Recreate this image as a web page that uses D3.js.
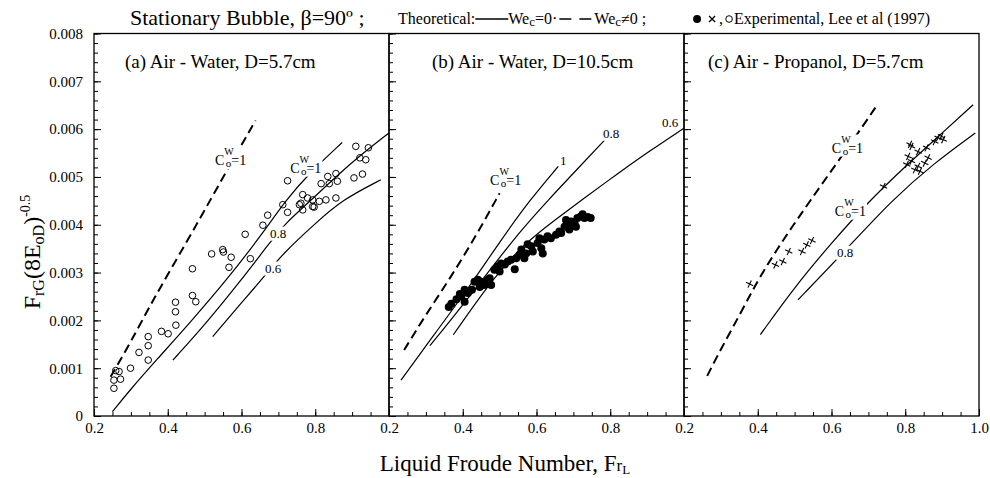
<!DOCTYPE html>
<html>
<head>
<meta charset="utf-8">
<script src="https://cdn.jsdelivr.net/npm/d3@7"></script>
<style>
body { margin: 0; background: #fff; }
</style>
</head>
<body>
<svg id="chart" width="990" height="478" font-family="Liberation Serif, Times New Roman, serif"></svg>
<script>
// values, [Fr_L, Fr_G(8Eo_D)^-0.5]
var xTicks = [0.2, 0.4, 0.6, 0.8, 1.0];
var yTicks = [0, 0.001, 0.002, 0.003, 0.004, 0.005, 0.006, 0.007, 0.008];

// (a) air - water, D=5.7cm
var dashA = [[0.245, 0.00082], [0.30, 0.00155], [0.36, 0.00243], [0.45, 0.00362], [0.52, 0.00458], [0.58, 0.0054], [0.638, 0.00618]];
var solidA1 = [[0.25, 0.00009], [0.297, 0.00054], [0.369, 0.00117], [0.459, 0.00194], [0.568, 0.00292], [0.658, 0.00383], [0.721, 0.00452], [0.784, 0.00508], [0.873, 0.00572]];
var solidA2 = [[0.414, 0.00117], [0.50, 0.0019], [0.60, 0.00285], [0.676, 0.00362], [0.72, 0.00404], [0.79, 0.00452], [0.856, 0.00501], [0.93, 0.0055], [1.0, 0.00592]];
var solidA3 = [[0.522, 0.00166], [0.59, 0.00228], [0.658, 0.00288], [0.712, 0.0034], [0.802, 0.00404], [0.873, 0.00452], [0.978, 0.00494]];
var circlesA = [[0.254, 0.00058], [0.254, 0.00075], [0.259, 0.00095], [0.268, 0.00093], [0.272, 0.00077], [0.299, 0.001],
  [0.322, 0.00133], [0.347, 0.00147], [0.347, 0.00166], [0.347, 0.00117], [0.383, 0.00177], [0.401, 0.00172],
  [0.421, 0.00238], [0.421, 0.00218], [0.422, 0.0019], [0.467, 0.00252], [0.467, 0.00308], [0.476, 0.00239],
  [0.519, 0.00339], [0.549, 0.00348], [0.551, 0.00343], [0.566, 0.00311], [0.572, 0.00332], [0.61, 0.0038],
  [0.624, 0.00329], [0.658, 0.00399], [0.671, 0.0042], [0.712, 0.00442], [0.725, 0.00426], [0.757, 0.00442],
  [0.766, 0.00431], [0.797, 0.00437], [0.725, 0.00492], [0.766, 0.00463], [0.779, 0.00456], [0.761, 0.00445],
  [0.793, 0.00452], [0.816, 0.00486], [0.834, 0.00501], [0.838, 0.00486], [0.86, 0.00491], [0.856, 0.00507],
  [0.811, 0.00449], [0.829, 0.00452], [0.793, 0.00438], [0.856, 0.00456], [0.905, 0.00498], [0.928, 0.00506],
  [0.91, 0.00564], [0.944, 0.00561], [0.921, 0.0054], [0.937, 0.00536]];

// (b) air - water, D=10.5cm
var dashB = [[0.241, 0.00138], [0.30, 0.00212], [0.369, 0.00292], [0.44, 0.00382], [0.5, 0.00466]];
var solidB1 = [[0.2325, 0.00075], [0.325, 0.00173], [0.415, 0.00267], [0.501, 0.00365], [0.582, 0.00452], [0.659, 0.00522]];
var solidB2 = [[0.311, 0.00147], [0.397, 0.00229], [0.488, 0.0032], [0.56, 0.0039], [0.632, 0.00452], [0.709, 0.00515], [0.786, 0.00578]];
var solidB3 = [[0.3745, 0.0017], [0.4785, 0.00285], [0.569, 0.00362], [0.65, 0.0041], [0.723, 0.00452], [0.822, 0.00508], [0.91, 0.00556], [1.0, 0.00602]];
var dotsB = [[0.362, 0.00228], [0.369, 0.00235], [0.383, 0.00244], [0.396, 0.0025], [0.405, 0.00239], [0.392, 0.00255],
  [0.414, 0.00257], [0.425, 0.00264], [0.432, 0.00281], [0.441, 0.00285], [0.45, 0.00281], [0.459, 0.00274],
  [0.468, 0.00285], [0.477, 0.00274], [0.473, 0.00288], [0.486, 0.00306], [0.495, 0.00313], [0.5, 0.00302],
  [0.514, 0.00317], [0.522, 0.00323], [0.531, 0.00327], [0.541, 0.00307], [0.545, 0.0033], [0.559, 0.00348],
  [0.554, 0.00337], [0.567, 0.0033], [0.586, 0.00355], [0.59, 0.00344], [0.603, 0.00362], [0.613, 0.00351],
  [0.621, 0.00369], [0.63, 0.00376], [0.639, 0.00372], [0.653, 0.00379], [0.662, 0.00386], [0.676, 0.00396],
  [0.685, 0.00403], [0.68, 0.0041], [0.694, 0.00407], [0.703, 0.00403], [0.711, 0.00414], [0.72, 0.00417],
  [0.73, 0.00414], [0.739, 0.00416], [0.747, 0.00414], [0.707, 0.00396], [0.689, 0.0039], [0.667, 0.00383],
  [0.608, 0.00372], [0.572, 0.0034], [0.576, 0.00359], [0.617, 0.0034], [0.446, 0.0027], [0.504, 0.00319],
  [0.405, 0.00264], [0.725, 0.00422]];

// (c) air - propanol, D=5.7cm
var dashC = [[0.263, 0.00084], [0.30, 0.0014], [0.35, 0.0021], [0.394, 0.00275], [0.44, 0.00334], [0.49, 0.00392], [0.54, 0.00448], [0.61, 0.00524], [0.672, 0.00592], [0.72, 0.00646]];
var solidC1 = [[0.407, 0.0017], [0.50, 0.0027], [0.60, 0.00362], [0.70, 0.00448], [0.80, 0.00522], [0.90, 0.00592], [0.984, 0.00651]];
var solidC2 = [[0.509, 0.00243], [0.634, 0.00343], [0.764, 0.00452], [0.88, 0.0053], [0.99, 0.00592]];
var crossesC = [[0.378, 0.00276], [0.448, 0.00316], [0.468, 0.00323], [0.484, 0.00344], [0.52, 0.00344], [0.533, 0.00358],
  [0.547, 0.00367], [0.741, 0.0048], [0.813, 0.00568], [0.817, 0.00564], [0.808, 0.00543], [0.804, 0.00526],
  [0.817, 0.00533], [0.835, 0.00553], [0.858, 0.00561], [0.862, 0.0054], [0.835, 0.00522], [0.853, 0.00529],
  [0.826, 0.00515], [0.84, 0.00512], [0.88, 0.00574], [0.898, 0.00585], [0.889, 0.00582], [0.903, 0.00578]];

var panelLeft = [94, 389, 684];
var panelWidth = 295;
var plotTop = 33.5;
var plotBottom = 416;
var serif = "Liberation Serif, Times New Roman, serif";

var panels = [
  {title: "(a) Air - Water, D=5.7cm", titleDx: 31, dash: dashA, solids: [solidA1, solidA2, solidA3], marks: circlesA, mark: "circle",
   xLabels: [0.2, 0.4, 0.6, 0.8], yLabels: true,
   coLabels: [[0.528, 0.00524], [0.732, 0.00509]], numLabels: [["0.8", 0.677, 0.00373], ["0.6", 0.664, 0.0030]]},
  {title: "(b) Air - Water, D=10.5cm", titleDx: 43, dash: dashB, solids: [solidB1, solidB2, solidB3], marks: dotsB, mark: "dot",
   xLabels: [0.2, 0.4, 0.6, 0.8], yLabels: false,
   coLabels: [[0.474, 0.00484]], numLabels: [["1", 0.664, 0.00526], ["0.8", 0.78, 0.00582], ["0.6", 0.94, 0.00605]]},
  {title: "(c) Air - Propanol, D=5.7cm", titleDx: 24, dash: dashC, solids: [solidC1, solidC2], marks: crossesC, mark: "cross",
   xLabels: [0.2, 0.4, 0.6, 0.8, 1.0], yLabels: false,
   coLabels: [[0.601, 0.00551], [0.609, 0.00419]], numLabels: [["0.8", 0.615, 0.00333]]}
];

var svg = d3.select("#chart");
var crossPath = "M3.6,1.7L-3.6,-1.7M-1.7,3.6L1.7,-3.6";

var yScale = d3.scaleLinear()
  .domain([0, 0.008])
  .range([plotBottom, plotTop]);

var yMinor = d3.range(0, 41).map(function (i) { return i * 0.0002; });
var xMinor = d3.range(0, 17).map(function (i) { return 0.2 + i * 0.05; });

function styleAxis(g) {
  g.select(".domain").remove();
  g.attr("font-family", serif).attr("font-size", 15);
  g.selectAll("line").attr("stroke", "#000").attr("stroke-width", 1);
  g.selectAll("text").attr("fill", "#000");
}

// white box under a curve label so the line looks broken there
function knockOut(g, t) {
  var b = t.node().getBBox();
  g.insert("rect", function () { return t.node(); })
    .attr("x", b.x - 1).attr("y", b.y + 1)
    .attr("width", b.width + 2).attr("height", b.height - 1)
    .attr("fill", "#fff");
}

// label "C^W_o=1"
function coLabel(g, x, y) {
  var t = g.append("text")
    .attr("x", x).attr("y", y)
    .attr("font-size", 14);
  t.append("tspan").text("C");
  t.append("tspan").attr("font-size", 10).attr("dy", -10).text("W");
  t.append("tspan").attr("font-size", 11).attr("dx", -8).attr("dy", 12).text("o");
  t.append("tspan").attr("dy", -2).text("=1");
  knockOut(g, t);
}

panels.forEach(function (p, i) {
  var left = panelLeft[i];
  var xScale = d3.scaleLinear()
    .domain([0.2, 1.0])
    .range([left, left + panelWidth]);

  var g = svg.append("g");

  var line = d3.line()
    .x(function (d) { return xScale(d[0]); })
    .y(function (d) { return yScale(d[1]); })
    .curve(d3.curveBasis);

  // y ticks (inside)
  g.append("g")
    .attr("transform", "translate(" + left + ",0)")
    .call(d3.axisLeft(yScale).tickValues(yMinor).tickSize(-4).tickFormat(""))
    .call(styleAxis);
  g.append("g")
    .attr("transform", "translate(" + left + ",0)")
    .call(d3.axisLeft(yScale).tickValues(yTicks).tickSize(-7).tickPadding(11)
      .tickFormat(function (d) { return p.yLabels ? (d === 0 ? "0" : d3.format(".3f")(d)) : ""; }))
    .call(styleAxis);

  // x ticks (inside)
  g.append("g")
    .attr("transform", "translate(0," + plotBottom + ")")
    .call(d3.axisBottom(xScale).tickValues(xMinor).tickSize(-4).tickFormat(""))
    .call(styleAxis);
  g.append("g")
    .attr("transform", "translate(0," + plotBottom + ")")
    .call(d3.axisBottom(xScale).tickValues(xTicks).tickSize(-7).tickPadding(6)
      .tickFormat(function (d) { return p.xLabels.indexOf(d) >= 0 ? d3.format(".1f")(d) : ""; }))
    .call(styleAxis);

  // curves
  g.append("path")
    .datum(p.dash)
    .attr("d", line)
    .attr("fill", "none")
    .attr("stroke", "#000")
    .attr("stroke-width", 2)
    .attr("stroke-dasharray", "9,5");

  g.selectAll(".solid")
    .data(p.solids)
    .enter().append("path")
    .attr("class", "solid")
    .attr("d", line)
    .attr("fill", "none")
    .attr("stroke", "#000")
    .attr("stroke-width", 1.2);

  // experimental points
  if (p.mark === "circle") {
    g.selectAll(".pt").data(p.marks).enter().append("circle")
      .attr("cx", function (d) { return xScale(d[0]); })
      .attr("cy", function (d) { return yScale(d[1]); })
      .attr("r", 3.3)
      .attr("fill", "none")
      .attr("stroke", "#000")
      .attr("stroke-width", 1);
  } else if (p.mark === "dot") {
    g.selectAll(".pt").data(p.marks).enter().append("circle")
      .attr("cx", function (d) { return xScale(d[0]); })
      .attr("cy", function (d) { return yScale(d[1]); })
      .attr("r", 4)
      .attr("fill", "#000");
  } else {
    g.selectAll(".pt").data(p.marks).enter().append("path")
      .attr("transform", function (d) { return "translate(" + xScale(d[0]) + "," + yScale(d[1]) + ")"; })
      .attr("d", crossPath)
      .attr("stroke", "#000")
      .attr("stroke-width", 1.1);
  }

  // curve labels
  p.coLabels.forEach(function (c) {
    coLabel(g, xScale(c[0]), yScale(c[1]));
  });
  p.numLabels.forEach(function (c) {
    var t = g.append("text")
      .attr("x", xScale(c[1])).attr("y", yScale(c[2]))
      .attr("font-size", 13)
      .text(c[0]);
    knockOut(g, t);
  });

  // panel title
  g.append("text")
    .attr("x", left + p.titleDx)
    .attr("y", 68)
    .attr("font-size", 19)
    .text(p.title);

  // frame
  g.append("rect")
    .attr("x", left).attr("y", plotTop)
    .attr("width", panelWidth).attr("height", plotBottom - plotTop)
    .attr("fill", "none")
    .attr("stroke", "#000")
    .attr("stroke-width", 1.3);
});

// title and legend line
svg.append("text")
  .attr("x", 130).attr("y", 25)
  .attr("font-size", 22)
  .text("Stationary Bubble, \u03b2=90\u00ba ;");

var legend = svg.append("g").attr("font-size", 16);
var cursor = 398;
var legY = 24;

function legendText(parts) {
  var t = legend.append("text").attr("x", cursor).attr("y", legY);
  parts.forEach(function (s) {
    var ts = t.append("tspan").text(s[0]);
    if (s[1]) ts.attr("font-size", s[1]);
    if (s[2]) ts.attr("dy", s[2]);
  });
  cursor += t.node().getComputedTextLength();
  return t;
}

legendText([["Theoretical:"]]);
legend.append("line")
  .attr("x1", cursor).attr("x2", cursor + 33)
  .attr("y1", legY - 5).attr("y2", legY - 5)
  .attr("stroke", "#000").attr("stroke-width", 1.5);
cursor += 33;
legendText([["We"], ["c", 13, 2], ["=0\u00b7", null, -2]]);
legend.append("line")
  .attr("x1", cursor + 2).attr("x2", cursor + 36)
  .attr("y1", legY - 5).attr("y2", legY - 5)
  .attr("stroke", "#000").attr("stroke-width", 1.5)
  .attr("stroke-dasharray", "12,8");
cursor += 37;
legendText([["We"], ["c", 13, 2], ["\u22600 ;", null, -2]]);

var expText = legend.append("text")
  .attr("x", 930).attr("y", legY)
  .attr("text-anchor", "end")
  .text("Experimental, Lee et al (1997)");
var expStart = 930 - expText.node().getComputedTextLength();
legend.append("circle")
  .attr("cx", expStart - 5).attr("cy", legY - 5).attr("r", 3.3)
  .attr("fill", "none").attr("stroke", "#000");
legend.append("text").attr("x", expStart - 15).attr("y", legY).text(",");
legend.append("path")
  .attr("transform", "translate(" + (expStart - 22) + "," + (legY - 5) + ")")
  .attr("d", "M-3,-3L3,3M-3,3L3,-3")
  .attr("stroke", "#000").attr("stroke-width", 1.3);
legend.append("circle")
  .attr("cx", expStart - 37).attr("cy", legY - 5).attr("r", 4)
  .attr("fill", "#000");

// axis titles
var yTitle = svg.append("text")
  .attr("transform", "translate(40,252) rotate(-90)")
  .attr("text-anchor", "middle")
  .attr("font-size", 24);
yTitle.append("tspan").text("F");
yTitle.append("tspan").attr("font-size", 16).attr("dy", 4).text("rG");
yTitle.append("tspan").attr("dy", -4).text("(8E");
yTitle.append("tspan").attr("font-size", 16).attr("dy", 4).text("oD");
yTitle.append("tspan").attr("dy", -4).text(")");
yTitle.append("tspan").attr("font-size", 14).attr("dy", -10).text("-0.5");

var xTitle = svg.append("text")
  .attr("x", 505).attr("y", 471)
  .attr("text-anchor", "middle")
  .attr("font-size", 23);
xTitle.append("tspan").text("Liquid Froude Number, F");
xTitle.append("tspan").attr("font-size", 17).text("r");
xTitle.append("tspan").attr("font-size", 13).attr("dy", 3).text("L");
</script>
</body>
</html>
